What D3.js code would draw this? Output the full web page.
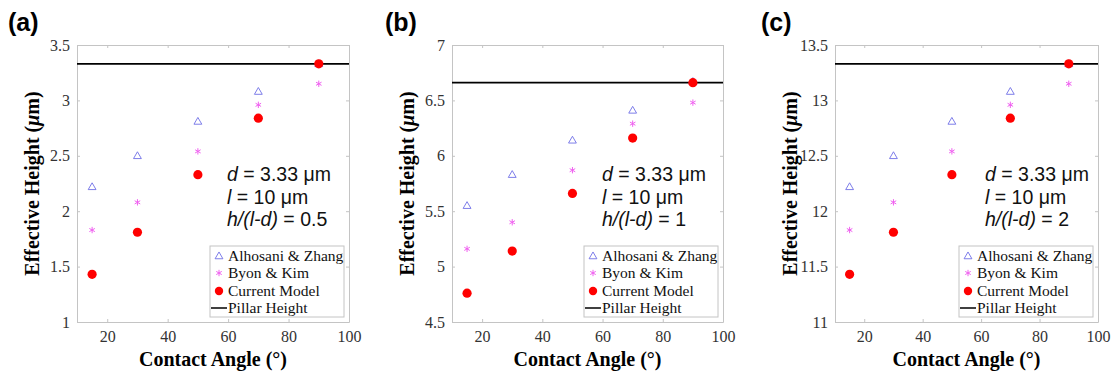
<!DOCTYPE html>
<html>
<head>
<meta charset="utf-8">
<script src="https://cdn.jsdelivr.net/npm/d3@7"></script>
<style>
  body { margin: 0; background: #fff; }
  svg { display: block; }
  .serif { font-family: "Liberation Serif", "Tinos", "Times New Roman", Times, "DejaVu Serif", serif; }
  .sans { font-family: "Liberation Sans", Arial, Helvetica, sans-serif; }
  .tick text { font-family: "Liberation Serif", "Times New Roman", Times, serif !important; }
</style>
</head>
<body>
<script>
"use strict";

// data
const angles = [15, 30, 50, 70, 90];
const xTicks = [20, 40, 60, 80, 100];

const alhosaniA = [2.22, 2.50, 2.81, 3.08, 3.33];
const byonA = [1.83, 2.08, 2.54, 2.96, 3.15];
const currentA = [1.43, 1.81, 2.33, 2.84, 3.33];
const pillarA = 3.33;
const yTicksA = [1, 1.5, 2, 2.5, 3, 3.5];

const alhosaniB = [5.55, 5.83, 6.14, 6.41, 6.67];
const byonB = [5.16, 5.40, 5.87, 6.29, 6.48];
const currentB = [4.76, 5.14, 5.66, 6.16, 6.66];
const pillarB = 6.66;
const yTicksB = [4.5, 5, 5.5, 6, 6.5, 7];

const alhosaniC = [12.22, 12.50, 12.81, 13.08, 13.33];
const byonC = [11.83, 12.08, 12.54, 12.96, 13.15];
const currentC = [11.43, 11.81, 12.33, 12.84, 13.33];
const pillarC = 13.33;
const yTicksC = [11, 11.5, 12, 12.5, 13, 13.5];

const legendLabels = ["Alhosani & Zhang", "Byon & Kim", "Current Model", "Pillar Height"];

const w = 1117;
const h = 377;

const svg = d3.select("body").append("svg").attr("width", w).attr("height", h);

const panels = [
  { label: "(a)", labelX: 8, left: 77, right: 349, ratio: "0.5",
    alhosani: alhosaniA, byon: byonA, current: currentA, pillar: pillarA, yTicks: yTicksA },
  { label: "(b)", labelX: 385, left: 452, right: 723, ratio: "1",
    alhosani: alhosaniB, byon: byonB, current: currentB, pillar: pillarB, yTicks: yTicksB },
  { label: "(c)", labelX: 761, left: 835, right: 1098, ratio: "2",
    alhosani: alhosaniC, byon: byonC, current: currentC, pillar: pillarC, yTicks: yTicksC }
];

const plotTop = 45;
const plotBottom = 322;
const triColor = "#6f6fe6";
const starColor = "#f060f0";
const dotColor = "#ff0000";
const axisColor = "#c4c4c4";

const triangle = (g, x, y) =>
  g.append("path")
    .attr("d", d3.symbol(d3.symbolTriangle2, 44)())
    .attr("transform", `translate(${x},${y + 0.5})`)
    .attr("fill", "none")
    .attr("stroke", triColor)
    .attr("stroke-width", 0.9);

const asterisk = (g, x, y) =>
  g.append("path")
    .attr("d", d3.symbol(d3.symbolAsterisk, 28)())
    .attr("transform", `translate(${x},${y})`)
    .attr("fill", "none")
    .attr("stroke", starColor)
    .attr("stroke-width", 1);

const drawPanel = (p) => {
  const xScale = d3.scaleLinear().domain([10, 100]).range([p.left, p.right]);
  const yScale = d3.scaleLinear()
    .domain([p.yTicks[0], p.yTicks[p.yTicks.length - 1]])
    .range([plotBottom, plotTop]);

  const g = svg.append("g");

  //panel letter
  g.append("text")
    .attr("class", "sans")
    .attr("x", p.labelX)
    .attr("y", 31)
    .attr("font-weight", "bold")
    .attr("font-size", 25)
    .text(p.label);

  //axes with inward ticks on all sides
  const styleAxis = (sel) => {
    sel.attr("font-family", null).attr("font-size", null);
    sel.select(".domain").attr("stroke", axisColor);
    sel.selectAll(".tick line").attr("stroke", axisColor);
    sel.selectAll(".tick text")
      .style("font-size", "16px")
      .attr("fill", "#333");
  };

  g.append("g")
    .attr("transform", `translate(0,${plotBottom})`)
    .call(d3.axisBottom(xScale).tickValues(xTicks).tickSize(-3).tickSizeOuter(0).tickPadding(9))
    .call(styleAxis);
  g.append("g")
    .attr("transform", `translate(0,${plotTop})`)
    .call(d3.axisTop(xScale).tickValues(xTicks).tickSize(-3).tickSizeOuter(0).tickFormat(""))
    .call(styleAxis);
  g.append("g")
    .attr("transform", `translate(${p.left},0)`)
    .call(d3.axisLeft(yScale).tickValues(p.yTicks).tickSize(-3).tickSizeOuter(0).tickPadding(7).tickFormat(d3.format("")))
    .call(styleAxis);
  g.append("g")
    .attr("transform", `translate(${p.right},0)`)
    .call(d3.axisRight(yScale).tickValues(p.yTicks).tickSize(-3).tickSizeOuter(0).tickFormat(""))
    .call(styleAxis);

  //axis titles
  g.append("text")
    .attr("class", "serif")
    .attr("x", (p.left + p.right) / 2)
    .attr("y", 366)
    .attr("text-anchor", "middle")
    .attr("font-weight", "bold")
    .attr("font-size", 20)
    .text("Contact Angle (°)");

  const yLabel = g.append("text")
    .attr("class", "serif")
    .attr("transform", `translate(${p.left - 38},${(plotTop + plotBottom) / 2}) rotate(-90)`)
    .attr("text-anchor", "middle")
    .attr("font-weight", "bold")
    .attr("font-size", 20);
  yLabel.append("tspan").text("Effective Height (");
  yLabel.append("tspan").attr("font-style", "italic").text("μ");
  yLabel.append("tspan").text("m)");

  //pillar height
  g.append("line")
    .attr("x1", p.left)
    .attr("x2", p.right)
    .attr("y1", yScale(p.pillar))
    .attr("y2", yScale(p.pillar))
    .attr("stroke", "#000")
    .attr("stroke-width", 1.6);

  //markers
  angles.forEach((a, i) => triangle(g, xScale(a), yScale(p.alhosani[i])));
  angles.forEach((a, i) => asterisk(g, xScale(a), yScale(p.byon[i])));
  g.selectAll("circle.dot")
    .data(angles)
    .enter()
    .append("circle")
    .attr("class", "dot")
    .attr("cx", (a) => xScale(a))
    .attr("cy", (a, i) => yScale(p.current[i]))
    .attr("r", 4.6)
    .attr("fill", dotColor);

  //annotation
  const ax = p.left + 150;
  const note = g.append("text")
    .attr("class", "sans")
    .attr("font-size", 19.5)
    .attr("fill", "#111");
  const l1 = note.append("tspan").attr("x", ax).attr("y", 181);
  l1.append("tspan").attr("font-style", "italic").text("d");
  l1.append("tspan").text(" = 3.33 μm");
  const l2 = note.append("tspan").attr("x", ax).attr("y", 204);
  l2.append("tspan").attr("font-style", "italic").text("l");
  l2.append("tspan").text(" = 10 μm");
  const l3 = note.append("tspan").attr("x", ax).attr("y", 226);
  l3.append("tspan").attr("font-style", "italic").text("h/(l-d)");
  l3.append("tspan").text(` = ${p.ratio}`);

  //legend
  const lw = 134;
  const lh = 71;
  const lx = p.right - 5 - lw;
  const ly = plotBottom - 5 - lh;
  const leg = g.append("g").attr("transform", `translate(${lx},${ly})`);
  leg.append("rect")
    .attr("width", lw)
    .attr("height", lh)
    .attr("fill", "#fff")
    .attr("stroke", axisColor)
    .attr("stroke-width", 1);

  const rowY = [10, 27, 45, 62];
  triangle(leg, 9, rowY[0]);
  asterisk(leg, 9, rowY[1]);
  leg.append("circle").attr("cx", 9).attr("cy", rowY[2]).attr("r", 4.2).attr("fill", dotColor);
  leg.append("line")
    .attr("x1", 1).attr("x2", 17)
    .attr("y1", rowY[3]).attr("y2", rowY[3])
    .attr("stroke", "#000").attr("stroke-width", 1.5);

  leg.selectAll("text.entry")
    .data(legendLabels)
    .enter()
    .append("text")
    .attr("class", "entry serif")
    .attr("x", 18)
    .attr("y", (d, i) => rowY[i] + 5)
    .attr("font-size", 15.5)
    .attr("fill", "#111")
    .text((d) => d);
};

panels.forEach(drawPanel);
</script>
</body>
</html>
